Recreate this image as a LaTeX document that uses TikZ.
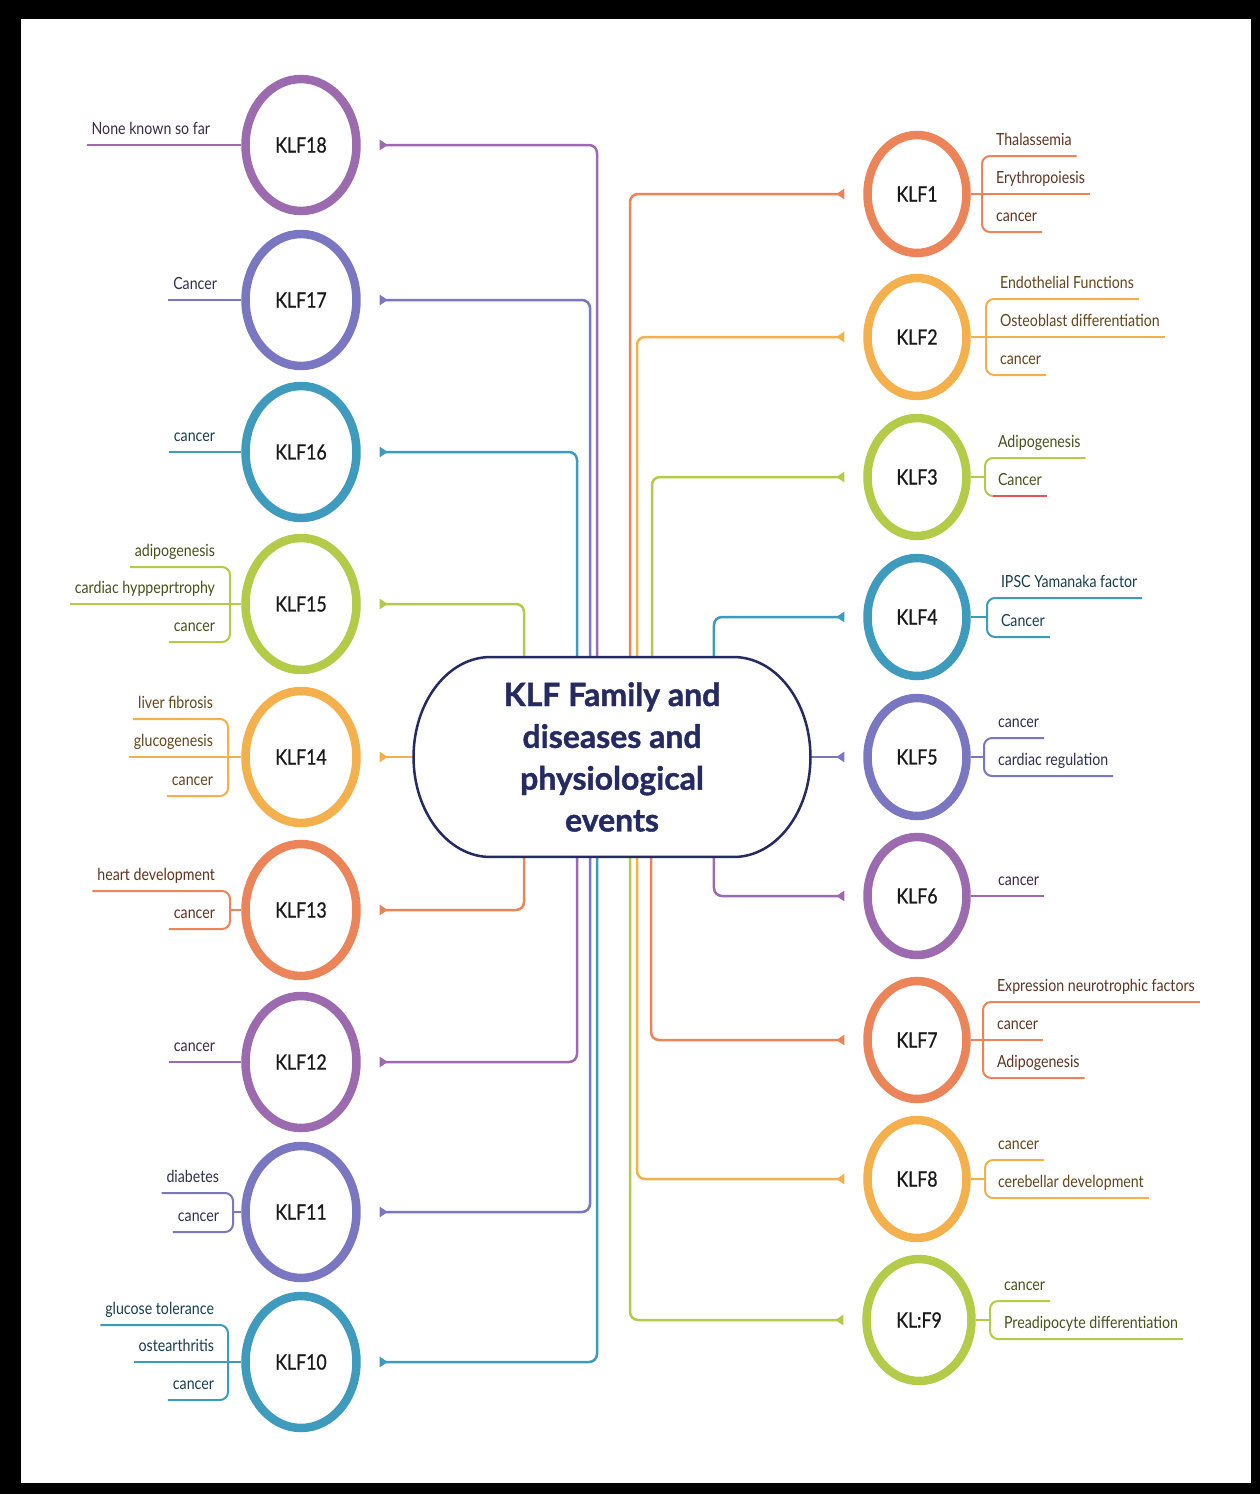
\documentclass[tikz,border=0pt]{standalone}
\usepackage{fontspec}
\setmainfont{Lato}
\newfontfamily\labelfont{Lato}[FakeStretch=0.85]
\newfontfamily\ringfont{Lato}[FakeStretch=0.84, FakeBold=0.8]
\newfontfamily\titlefont{Lato}[BoldFeatures={FakeBold=1.2}]
\usetikzlibrary{shapes.geometric, arrows.meta, backgrounds}

\definecolor{cPurple}{HTML}{9C6AAF}
\definecolor{cViolet}{HTML}{7A76C2}
\definecolor{cTeal}{HTML}{3E9BBE}
\definecolor{cGreen}{HTML}{B3CB48}
\definecolor{cAmber}{HTML}{F3B04C}
\definecolor{cOrange}{HTML}{EC8459}
\definecolor{cNavy}{HTML}{252A63}
\definecolor{cRed}{HTML}{E9535B}

\tikzset{
    ring/.style={ellipse, draw=#1, line width=0.17cm, minimum width=2.22cm, minimum height=2.64cm,
        inner sep=0pt, fill=white, text=black!90, font=\ringfont\fontsize{12}{14}\selectfont},
    smallring/.style={ring=#1, minimum width=1.98cm, minimum height=2.36cm},
    hub/.style={rectangle, minimum width=7.94cm, minimum height=4cm, outer sep=0pt, align=center,
        text=cNavy, font=\titlefont\bfseries\fontsize{18.2}{23.8}\selectfont},
    leaf/.style={text=#1!40!black, inner xsep=0.1cm, inner ysep=0.22cm, outer sep=0pt, text depth=0pt,
        font=\labelfont\fontsize{9.5}{11}\selectfont},
    leafR/.style={leaf=#1, anchor=south west},
    leafL/.style={leaf=#1, anchor=south east},
    twig/.style={draw=#1, line width=0.04cm, rounded corners=0.16cm},
    link/.style={draw=#1, line width=0.05cm, rounded corners=0.16cm, shorten >=0.38cm,
        -{Triangle[reversed, length=0.16cm, width=0.2cm]}}
}

\begin{document}
\begin{tikzpicture}[x=0.02cm, y=-0.02cm]
    \useasboundingbox (0,0) rectangle (1260,1494);
    \begin{scope}[on background layer]
        \fill[black] (0,0) rectangle (1260,1494);
        \fill[white] (21,19) rectangle (1251,1483);
    \end{scope}

    \node[hub] (hub) at (612,757) {KLF Family and\\diseases and\\physiological\\events};

    \foreach \n/\y/\c in {18/145/cPurple, 17/300/cViolet, 16/452/cTeal, 15/604/cGreen, 14/757/cAmber,
        13/910/cOrange, 12/1062/cPurple, 11/1212/cViolet, 10/1362/cTeal}
        \node[ring=\c] (k\n) at (301,\y) {KLF\n};
    \foreach \n/\y/\c in {1/194/cOrange, 2/337/cAmber, 3/477/cGreen, 4/617/cTeal, 5/757/cViolet,
        6/896/cPurple, 7/1040/cOrange, 8/1179/cAmber}
        \node[smallring=\c] (k\n) at (917,\y) {KLF\n};
    \node[smallring=cGreen, minimum width=2.1cm, minimum height=2.44cm] (k9) at (919,1320) {KL:F9};

    \begin{scope}[on background layer]
        \foreach \n/\dx/\c in {18/-0.30/cPurple, 17/-0.44/cViolet, 16/-0.70/cTeal, 15/-1.76/cGreen,
            13/-1.76/cOrange, 12/-0.70/cPurple, 11/-0.44/cViolet, 10/-0.30/cTeal,
            1/0.36/cOrange, 2/0.50/cAmber, 3/0.80/cGreen, 4/2.04/cTeal,
            6/2.04/cPurple, 7/0.78/cOrange, 8/0.50/cAmber, 9/0.36/cGreen}
            \draw[link=\c] ([xshift=\dx cm]hub.center) |- (k\n);
        \draw[link=cAmber] (hub) -- (k14);
        \draw[link=cViolet] (hub) -- (k5);
        \filldraw[fill=white, draw=cNavy, line width=0.05cm]
            ([xshift=1.54cm]hub.north west) -- ([xshift=-1.54cm]hub.north east)
            arc[start angle=90, end angle=-90, x radius=1.54cm, y radius=2cm]
            -- ([xshift=1.54cm]hub.south west)
            arc[start angle=270, end angle=90, x radius=1.54cm, y radius=2cm] -- cycle;
    \end{scope}

    \node[leafR=cOrange] (t1a) at (991,156) {Thalassemia};
    \node[leafR=cOrange] (t1b) at (991,194) {Erythropoiesis};
    \node[leafR=cOrange] (t1c) at (991,232) {cancer};
    \coordinate (b1) at (982,194);
    \draw[twig=cOrange] (k1) -- (t1b.south east);
    \draw[twig=cOrange] (t1a.south east) -| (b1) |- (t1c.south east);

    \node[leafR=cAmber] (t2a) at (995,299) {Endothelial Functions};
    \node[leafR=cAmber] (t2b) at (995,337) {Osteoblast differentiation};
    \node[leafR=cAmber] (t2c) at (995,375) {cancer};
    \coordinate (b2) at (986,337);
    \draw[twig=cAmber] (k2) -- (t2b.south east);
    \draw[twig=cAmber] (t2a.south east) -| (b2) |- (t2c.south east);

    \node[leafR=cGreen] (t3a) at (993,458) {Adipogenesis};
    \node[leafR=cGreen] (t3b) at (993,496) {Cancer};
    \coordinate (b3) at (985,477);
    \draw[twig=cGreen] (k3) -- (b3);
    \draw[twig=cGreen] (t3a.south east) -| (b3) |- (t3b.south west);
    \draw[twig=cRed] (t3b.south west) -- (t3b.south east);

    \node[leafR=cTeal] (t4a) at (996,598) {IPSC Yamanaka factor};
    \node[leafR=cTeal] (t4b) at (996,637) {Cancer};
    \coordinate (b4) at (987,617);
    \draw[twig=cTeal] (k4) -- (b4);
    \draw[twig=cTeal] (t4a.south east) -| (b4) |- (t4b.south east);

    \node[leafR=cViolet] (t5a) at (993,738) {cancer};
    \node[leafR=cViolet] (t5b) at (993,776) {cardiac regulation};
    \coordinate (b5) at (984,757);
    \draw[twig=cViolet] (k5) -- (b5);
    \draw[twig=cViolet] (t5a.south east) -| (b5) |- (t5b.south east);

    \node[leafR=cPurple] (t6a) at (993,896) {cancer};
    \draw[twig=cPurple] (k6) -- (t6a.south east);

    \node[leafR=cOrange] (t7a) at (992,1002) {Expression neurotrophic factors};
    \node[leafR=cOrange] (t7b) at (992,1040) {cancer};
    \node[leafR=cOrange] (t7c) at (992,1078) {Adipogenesis};
    \coordinate (b7) at (983,1040);
    \draw[twig=cOrange] (k7) -- (t7b.south east);
    \draw[twig=cOrange] (t7a.south east) -| (b7) |- (t7c.south east);

    \node[leafR=cAmber] (t8a) at (993,1160) {cancer};
    \node[leafR=cAmber] (t8b) at (993,1198) {cerebellar development};
    \coordinate (b8) at (985,1179);
    \draw[twig=cAmber] (k8) -- (b8);
    \draw[twig=cAmber] (t8a.south east) -| (b8) |- (t8b.south east);

    \node[leafR=cGreen] (t9a) at (999,1301) {cancer};
    \node[leafR=cGreen] (t9b) at (999,1339) {Preadipocyte differentiation};
    \coordinate (b9) at (990,1320);
    \draw[twig=cGreen] (k9) -- (b9);
    \draw[twig=cGreen] (t9a.south east) -| (b9) |- (t9b.south east);

    \node[leafL=cPurple] (t18a) at (215,145) {None known so far};
    \draw[twig=cPurple] (t18a.south west) -- (k18);

    \node[leafL=cViolet] (t17a) at (222,300) {Cancer};
    \draw[twig=cViolet] (t17a.south west) -- (k17);

    \node[leafL=cTeal] (t16a) at (220,452) {cancer};
    \draw[twig=cTeal] (t16a.south west) -- (k16);

    \node[leafL=cGreen] (t15a) at (220,567) {adipogenesis};
    \node[leafL=cGreen] (t15b) at (220,604) {cardiac hyppeprtrophy};
    \node[leafL=cGreen] (t15c) at (220,642) {cancer};
    \coordinate (b15) at (230,604);
    \draw[twig=cGreen] (t15b.south west) -- (k15);
    \draw[twig=cGreen] (t15a.south west) -| (b15) |- (t15c.south west);

    \node[leafL=cAmber] (t14a) at (218,719) {liver fibrosis};
    \node[leafL=cAmber] (t14b) at (218,757) {glucogenesis};
    \node[leafL=cAmber] (t14c) at (218,796) {cancer};
    \coordinate (b14) at (228,757);
    \draw[twig=cAmber] (t14b.south west) -- (k14);
    \draw[twig=cAmber] (t14a.south west) -| (b14) |- (t14c.south west);

    \node[leafL=cOrange] (t13a) at (220,891) {heart development};
    \node[leafL=cOrange] (t13b) at (220,929) {cancer};
    \coordinate (b13) at (230,910);
    \draw[twig=cOrange] (b13) -- (k13);
    \draw[twig=cOrange] (t13a.south west) -| (b13) |- (t13b.south west);

    \node[leafL=cPurple] (t12a) at (220,1062) {cancer};
    \draw[twig=cPurple] (t12a.south west) -- (k12);

    \node[leafL=cViolet] (t11a) at (224,1193) {diabetes};
    \node[leafL=cViolet] (t11b) at (224,1232) {cancer};
    \coordinate (b11) at (233,1212);
    \draw[twig=cViolet] (b11) -- (k11);
    \draw[twig=cViolet] (t11a.south west) -| (b11) |- (t11b.south west);

    \node[leafL=cTeal] (t10a) at (219,1325) {glucose tolerance};
    \node[leafL=cTeal] (t10b) at (219,1362) {ostearthritis};
    \node[leafL=cTeal] (t10c) at (219,1400) {cancer};
    \coordinate (b10) at (228,1362);
    \draw[twig=cTeal] (t10b.south west) -- (k10);
    \draw[twig=cTeal] (t10a.south west) -| (b10) |- (t10c.south west);
\end{tikzpicture}
\end{document}
